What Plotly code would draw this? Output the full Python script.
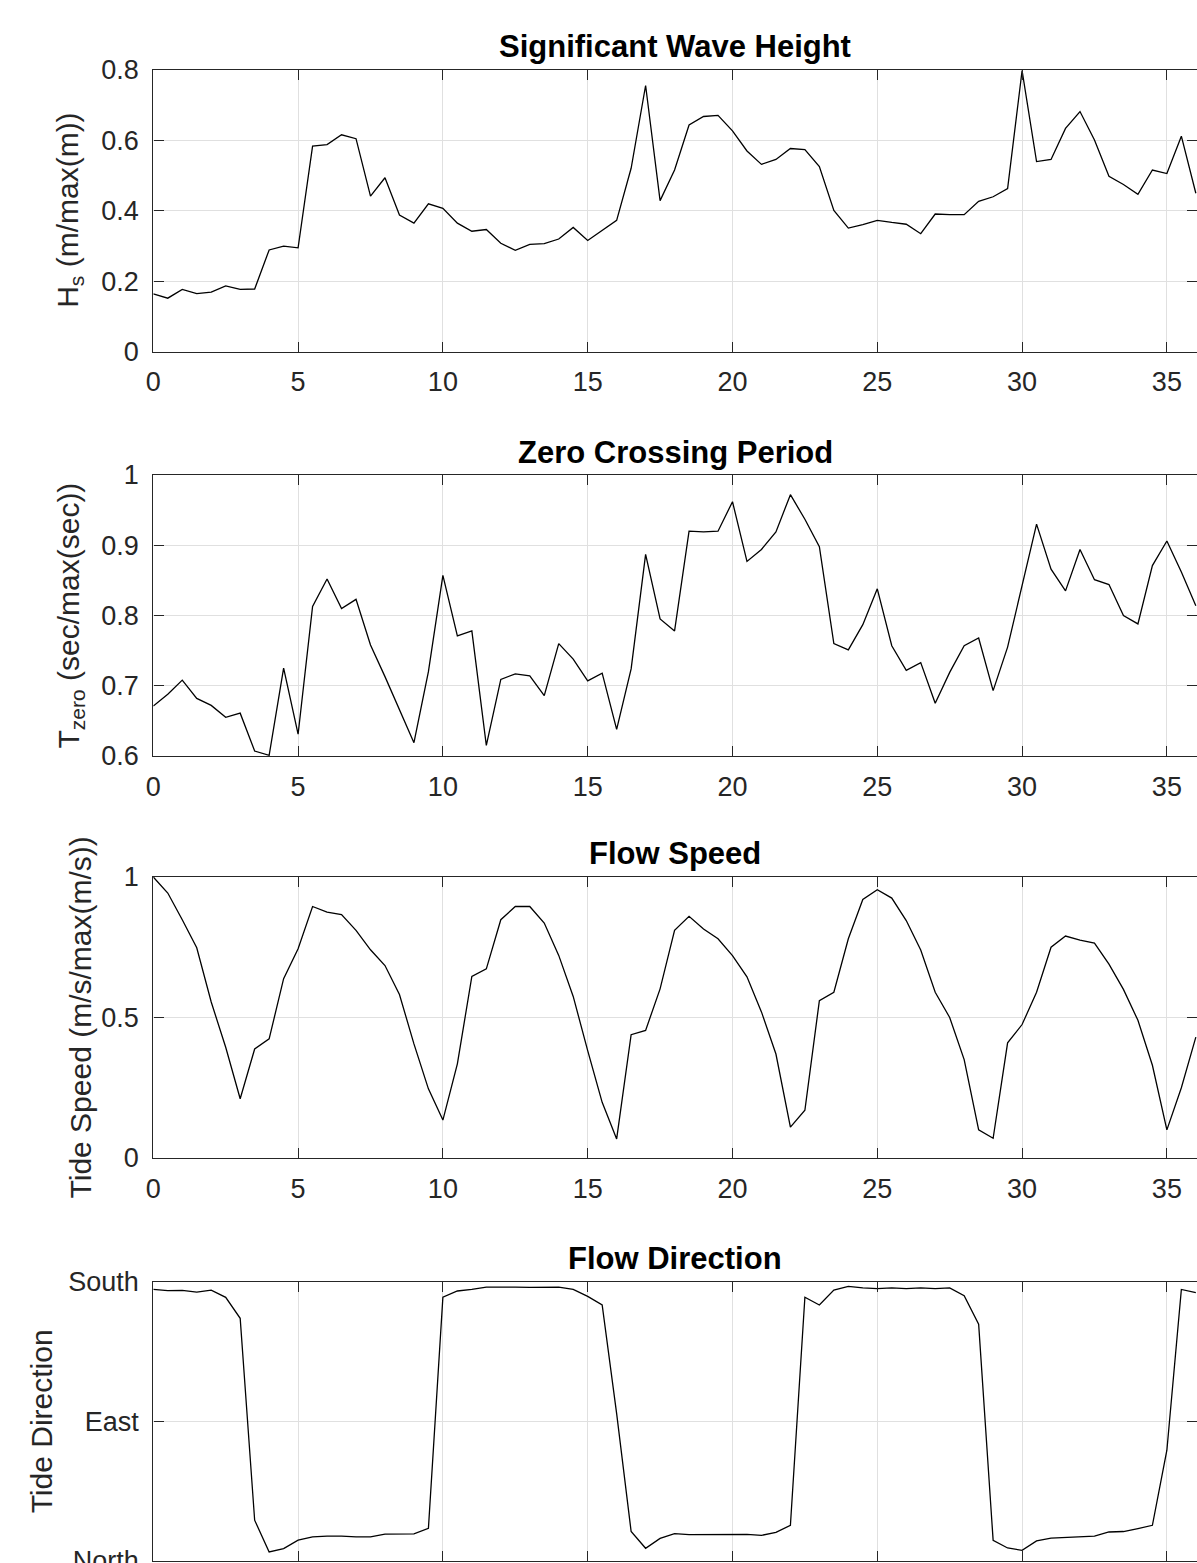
import plotly.graph_objects as go

# ---------------- data ----------------
time_days = [0, 0.5, 1, 1.5, 2, 2.5, 3, 3.5, 4, 4.5, 5, 5.5, 6, 6.5, 7, 7.5, 8, 8.5, 9, 9.5,
             10, 10.5, 11, 11.5, 12, 12.5, 13, 13.5, 14, 14.5, 15, 15.5, 16, 16.5, 17, 17.5,
             18, 18.5, 19, 19.5, 20, 20.5, 21, 21.5, 22, 22.5, 23, 23.5, 24, 24.5, 25, 25.5,
             26, 26.5, 27, 27.5, 28, 28.5, 29, 29.5, 30, 30.5, 31, 31.5, 32, 32.5, 33, 33.5,
             34, 34.5, 35, 35.5, 36]

wave_height = [0.164, 0.152, 0.177, 0.165, 0.169, 0.187, 0.177, 0.178, 0.289, 0.300,
               0.295, 0.584, 0.588, 0.616, 0.605, 0.442, 0.494, 0.388, 0.365, 0.420,
               0.407, 0.365, 0.342, 0.347, 0.308, 0.288, 0.305, 0.307, 0.320, 0.353,
               0.316, 0.345, 0.373, 0.521, 0.756, 0.429, 0.516, 0.644, 0.668, 0.671,
               0.627, 0.570, 0.532, 0.546, 0.577, 0.574, 0.526, 0.401, 0.351, 0.361,
               0.373, 0.367, 0.362, 0.335, 0.391, 0.389, 0.389, 0.427, 0.440, 0.463,
               0.798, 0.540, 0.546, 0.634, 0.682, 0.601, 0.498, 0.475, 0.447, 0.516,
               0.506, 0.612, 0.450]

zero_period = [0.671, 0.688, 0.708, 0.682, 0.672, 0.655, 0.661, 0.607, 0.601, 0.725,
               0.631, 0.813, 0.852, 0.810, 0.823, 0.758, 0.713, 0.665, 0.619, 0.720,
               0.857, 0.771, 0.778, 0.615, 0.709, 0.717, 0.714, 0.686, 0.760, 0.738,
               0.707, 0.718, 0.638, 0.724, 0.887, 0.795, 0.778, 0.920, 0.919, 0.920,
               0.962, 0.877, 0.894, 0.919, 0.972, 0.937, 0.898, 0.760, 0.751, 0.787,
               0.838, 0.757, 0.722, 0.733, 0.675, 0.719, 0.757, 0.768, 0.693, 0.755,
               0.843, 0.930, 0.866, 0.835, 0.894, 0.851, 0.844, 0.800, 0.788, 0.871,
               0.906, 0.862, 0.814]

flow_speed = [1.000, 0.943, 0.848, 0.748, 0.555, 0.394, 0.211, 0.388, 0.424, 0.638,
              0.745, 0.895, 0.875, 0.866, 0.810, 0.741, 0.685, 0.582, 0.406, 0.246,
              0.135, 0.335, 0.646, 0.673, 0.848, 0.895, 0.895, 0.836, 0.721, 0.575,
              0.382, 0.198, 0.068, 0.439, 0.454, 0.602, 0.810, 0.860, 0.815, 0.780,
              0.720, 0.645, 0.520, 0.370, 0.110, 0.170, 0.560, 0.590, 0.780, 0.920,
              0.955, 0.925, 0.845, 0.740, 0.590, 0.500, 0.350, 0.100, 0.070, 0.410,
              0.475, 0.590, 0.750, 0.790, 0.775, 0.765, 0.690, 0.600, 0.490, 0.330,
              0.100, 0.250, 0.430]

flow_direction = [175.1, 174.2, 174.4, 173.3, 174.6, 169.9, 156.4, 26.3, 5.8, 8.0,
                  13.4, 15.5, 16.0, 16.0, 15.5, 15.5, 17.3, 17.5, 17.5, 21.0,
                  170.0, 174.0, 175.0, 176.5, 176.3, 176.5, 176.4, 176.4, 176.5, 175.0,
                  170.5, 165.0, 95.0, 19.0, 8.2, 14.6, 17.7, 17.0, 17.0, 17.2,
                  17.0, 17.2, 16.5, 18.4, 23.0, 170.0, 165.0, 174.6, 177.0, 176.0,
                  175.5, 176.0, 175.5, 176.0, 175.5, 176.0, 171.0, 152.6, 13.3, 8.4,
                  6.9, 12.9, 14.8, 15.3, 15.5, 16.0, 18.7, 19.0, 20.9, 23.0,
                  71.4, 175.0, 172.9]

x_ticks = [0, 5, 10, 15, 20, 25, 30, 35]
titles = ["Significant Wave Height", "Zero Crossing Period", "Flow Speed", "Flow Direction"]
y_labels = ["H<sub>s</sub> (m/max(m))", "T<sub>zero</sub> (sec/max(sec))",
            "Tide Speed (m/s/max(m/s))", "Tide Direction"]
y_tickvals = [[0, 0.2, 0.4, 0.6, 0.8], [0.6, 0.7, 0.8, 0.9, 1.0], [0, 0.5, 1.0], [0, 90, 180]]
y_ticktext = [["0", "0.2", "0.4", "0.6", "0.8"], ["0.6", "0.7", "0.8", "0.9", "1"],
              ["0", "0.5", "1"], ["North", "East", "South"]]
y_ranges = [[0, 0.8], [0.6, 1.0], [0, 1.0], [0, 180]]
series = [wave_height, zero_period, flow_speed, flow_direction]

# ---------------- layout geometry (pixels) ----------------
W, H = 1197, 1563
PX0, PX1 = 153.3, 1197.0
X_MAX = 36.04          # the axes box continues just past the window's right edge
panels = [(70.0, 351.7), (475.0, 756.0), (877.0, 1158.0), (1281.7, 1561.0)]
ylabel_x = [70, 70, 80, 41]

FONT = "Liberation Sans, Arial, Helvetica, sans-serif"
AX = "#262626"
GRID = "#e0e0e0"

fig = go.Figure()
layout = dict(
    width=W, height=H,
    margin=dict(l=0, r=0, t=0, b=0),
    paper_bgcolor="white", plot_bgcolor="white",
    showlegend=False,
    font=dict(family=FONT, color=AX),
)
annotations = []

for i in range(4):
    n = "" if i == 0 else str(i + 1)
    top, bot = panels[i]
    fig.add_trace(go.Scatter(
        x=time_days, y=series[i], mode="lines",
        line=dict(color="black", width=1.3),
        xaxis="x" + n, yaxis="y" + n, hoverinfo="skip",
    ))
    common = dict(
        showline=True, linecolor=AX, linewidth=1.4, mirror="allticks",
        ticks="inside", ticklen=10, tickwidth=1.4, tickcolor=AX,
        showgrid=True, gridcolor=GRID, gridwidth=1, zeroline=False,
        tickfont=dict(family=FONT, size=27, color=AX), automargin=False,
    )
    layout["xaxis" + n] = dict(
        common, domain=[PX0 / W, PX1 / W], range=[0, X_MAX],
        tickmode="array", tickvals=x_ticks, ticktext=[str(v) for v in x_ticks],
        anchor="y" + n, ticklabelstandoff=6,
        showticklabels=(i < 3),   # bottom panel's labels fall below the window
    )
    layout["yaxis" + n] = dict(
        common, domain=[1 - bot / H, 1 - top / H], range=y_ranges[i],
        tickmode="array", tickvals=y_tickvals[i], ticktext=y_ticktext[i],
        anchor="x" + n, ticklabelstandoff=8, ticklabeloverflow="allow",
    )
    annotations.append(dict(
        text="<b>" + titles[i] + "</b>", xref="paper", yref="paper",
        x=(PX0 + 1197.0) / 2 / W, y=1 - (top - 23) / H, xanchor="center", yanchor="middle",
        showarrow=False, font=dict(family=FONT, size=31, color="black"),
    ))
    annotations.append(dict(
        text=y_labels[i], xref="paper", yref="paper", textangle=-90,
        x=ylabel_x[i] / W, y=1 - (top + bot) / 2 / H, xanchor="center", yanchor="middle",
        showarrow=False, font=dict(family=FONT, size=30, color=AX),
    ))

layout["annotations"] = annotations
fig.update_layout(**layout)
fig.write_html("out.html")
